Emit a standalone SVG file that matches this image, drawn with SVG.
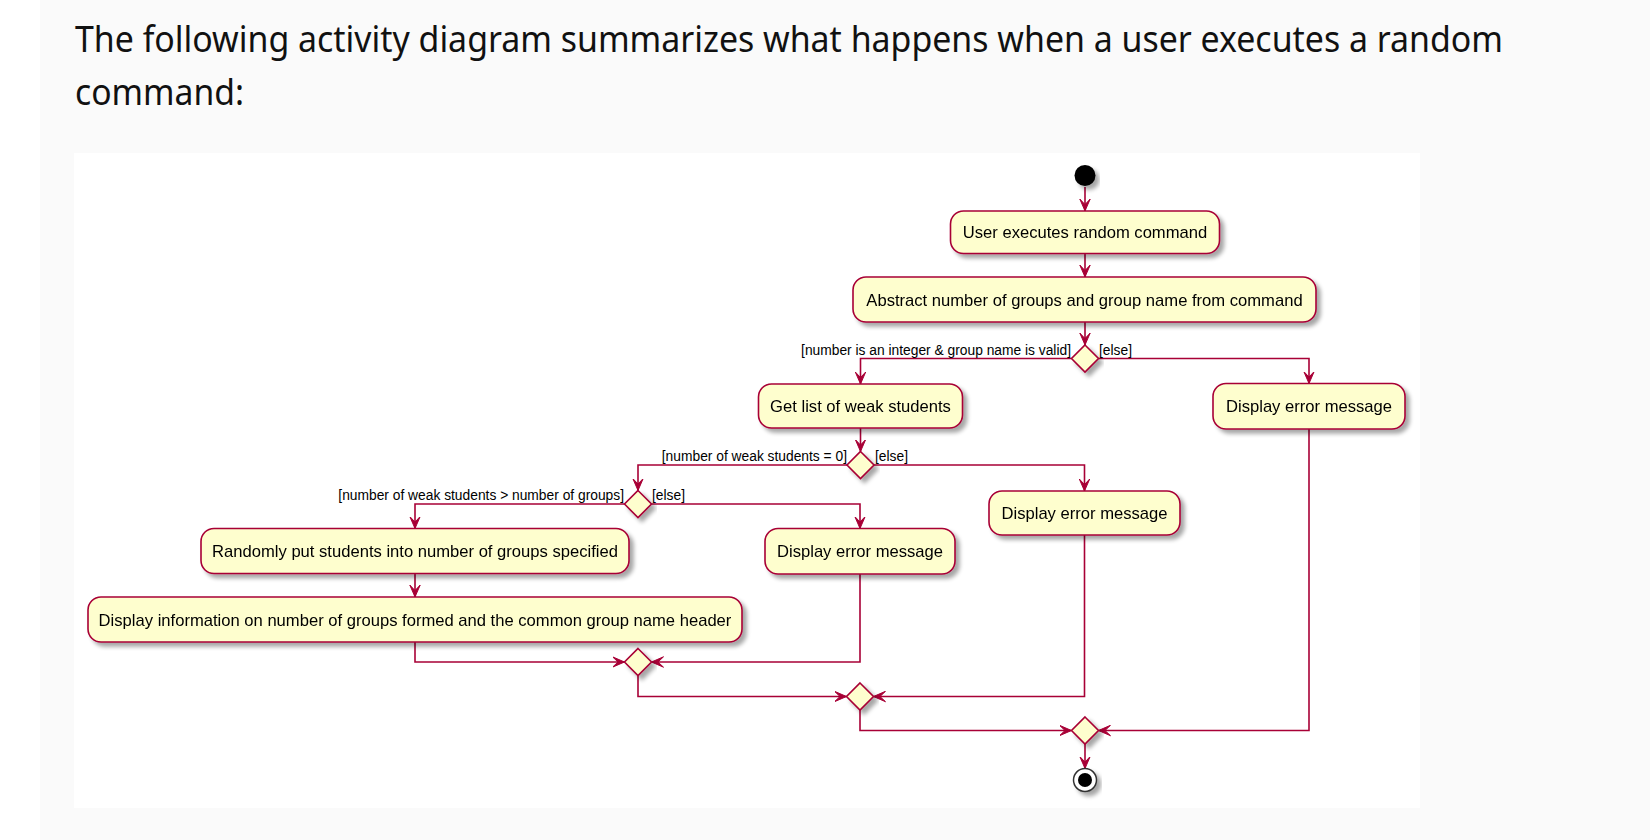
<svg xmlns="http://www.w3.org/2000/svg" width="1650" height="840" viewBox="0 0 1650 840">
<defs>
<style>
.bg{fill:#ffffff}
.panel{fill:#fafafa}
.head{font-family:"Noto Sans","Open Sans","Liberation Sans",sans-serif;font-size:36px;fill:#111111}
.box{fill:#FEFECE;stroke:#A80036;stroke-width:1.6}
.dia{fill:#FEFECE;stroke:#A80036;stroke-width:1.6}
.txt{font-family:"Liberation Sans",Arial,sans-serif;font-size:16.6px;fill:#000000;text-anchor:middle}
.lbl{font-family:"Liberation Sans",Arial,sans-serif;font-size:13.8px;fill:#000000}
.lblr{text-anchor:end}
.edge{fill:none;stroke:#A80036;stroke-width:1.6}
.ah{fill:#A80036;stroke:#A80036;stroke-width:1}
</style>
<filter id="sh" x="-20%" y="-30%" width="140%" height="170%">
<feGaussianBlur in="SourceAlpha" stdDeviation="2"/>
<feOffset dx="3.5" dy="3.5" result="b"/>
<feComponentTransfer><feFuncA type="linear" slope="0.35"/></feComponentTransfer>
<feMerge><feMergeNode/><feMergeNode in="SourceGraphic"/></feMerge>
</filter>
<marker id="arr" viewBox="0 0 12 12" refX="12" refY="6" markerWidth="12" markerHeight="12" markerUnits="userSpaceOnUse" orient="auto">
<path d="M12,6 L0,0.8 L5.5,6 L0,11.2 Z" class="ah"/>
</marker>
</defs>

<rect class="bg" x="0" y="0" width="1650" height="840"/>
<rect class="panel" x="40" y="0" width="1610" height="840"/>
<text class="head" x="75" y="52" textLength="1428" lengthAdjust="spacingAndGlyphs">The following activity diagram summarizes what happens when a user executes a random</text>
<text class="head" x="75" y="105" textLength="169" lengthAdjust="spacingAndGlyphs">command:</text>
<rect class="bg" x="74" y="153" width="1346" height="655"/>

<g id="connectors">
<path class="edge" d="M1085,187 V211" marker-end="url(#arr)"/>
<path class="edge" d="M1085,253 V277" marker-end="url(#arr)"/>
<path class="edge" d="M1085,322 V345" marker-end="url(#arr)"/>
<path class="edge" d="M1071.5,358.5 H860.5 V384" marker-end="url(#arr)"/>
<path class="edge" d="M1098.5,358.5 H1309 V383.5" marker-end="url(#arr)"/>
<path class="edge" d="M860.5,428 V451.5" marker-end="url(#arr)"/>
<path class="edge" d="M847,465 H638 V490.5" marker-end="url(#arr)"/>
<path class="edge" d="M874,465 H1084.5 V491" marker-end="url(#arr)"/>
<path class="edge" d="M624.5,504 H415 V528.5" marker-end="url(#arr)"/>
<path class="edge" d="M651.5,504 H860 V528.5" marker-end="url(#arr)"/>
<path class="edge" d="M415,573.5 V597" marker-end="url(#arr)"/>
<path class="edge" d="M415,642 V662 H624.5" marker-end="url(#arr)"/>
<path class="edge" d="M860,574 V662 H651.5" marker-end="url(#arr)"/>
<path class="edge" d="M638,675.5 V696.5 H846.5" marker-end="url(#arr)"/>
<path class="edge" d="M1084.5,535 V696.5 H873.5" marker-end="url(#arr)"/>
<path class="edge" d="M860,710 V730.5 H1071.5" marker-end="url(#arr)"/>
<path class="edge" d="M1309,429 V730.5 H1098.5" marker-end="url(#arr)"/>
<path class="edge" d="M1085,744 V768.5" marker-end="url(#arr)"/>
</g>

<g id="labels">
<text class="lbl lblr" x="1071" y="354.5">[number is an integer &amp; group name is valid]</text>
<text class="lbl" x="1099" y="354.5">[else]</text>
<text class="lbl lblr" x="847" y="461">[number of weak students = 0]</text>
<text class="lbl" x="875" y="461">[else]</text>
<text class="lbl lblr" x="624" y="500">[number of weak students &gt; number of groups]</text>
<text class="lbl" x="652" y="500">[else]</text>
</g>

<g id="start" filter="url(#sh)">
<circle cx="1085" cy="175.5" r="10.5" fill="#000000"/>
</g>

<g id="n1" filter="url(#sh)">
<rect class="box" x="950.5" y="211" width="269" height="42.5" rx="13"/>
<text class="txt" x="1085" y="238">User executes random command</text>
</g>

<g id="n2" filter="url(#sh)">
<rect class="box" x="853" y="277" width="463" height="45" rx="13"/>
<text class="txt" x="1084.5" y="305.5">Abstract number of groups and group name from command</text>
</g>

<g id="d1" filter="url(#sh)">
<polygon class="dia" points="1085,345 1098.5,358.5 1085,372 1071.5,358.5"/>
</g>

<g id="n3" filter="url(#sh)">
<rect class="box" x="758.5" y="384" width="204" height="44" rx="13"/>
<text class="txt" x="860.5" y="412">Get list of weak students</text>
</g>

<g id="n4" filter="url(#sh)">
<rect class="box" x="1213" y="383.5" width="192" height="45.5" rx="13"/>
<text class="txt" x="1309" y="412">Display error message</text>
</g>

<g id="d2" filter="url(#sh)">
<polygon class="dia" points="860.5,451.5 874,465 860.5,478.5 847,465"/>
</g>

<g id="n5" filter="url(#sh)">
<rect class="box" x="989" y="491" width="191" height="44" rx="13"/>
<text class="txt" x="1084.5" y="519">Display error message</text>
</g>

<g id="d3" filter="url(#sh)">
<polygon class="dia" points="638,490.5 651.5,504 638,517.5 624.5,504"/>
</g>

<g id="n6" filter="url(#sh)">
<rect class="box" x="765" y="528.5" width="190" height="45.5" rx="13"/>
<text class="txt" x="860" y="557">Display error message</text>
</g>

<g id="n7" filter="url(#sh)">
<rect class="box" x="201" y="528.5" width="428" height="45" rx="13"/>
<text class="txt" x="415" y="557">Randomly put students into number of groups specified</text>
</g>

<g id="n8" filter="url(#sh)">
<rect class="box" x="88" y="597" width="654" height="45" rx="13"/>
<text class="txt" x="415" y="625.5">Display information on number of groups formed and the common group name header</text>
</g>

<g id="m1" filter="url(#sh)">
<polygon class="dia" points="638,648.5 651.5,662 638,675.5 624.5,662"/>
</g>

<g id="m2" filter="url(#sh)">
<polygon class="dia" points="860,683 873.5,696.5 860,710 846.5,696.5"/>
</g>

<g id="m3" filter="url(#sh)">
<polygon class="dia" points="1085,717 1098.5,730.5 1085,744 1071.5,730.5"/>
</g>

<g id="end" filter="url(#sh)">
<circle cx="1085" cy="780" r="11.5" fill="#ffffff" stroke="#333333" stroke-width="1.5"/>
<circle cx="1085" cy="780" r="7" fill="#000000"/>
</g>
</svg>
